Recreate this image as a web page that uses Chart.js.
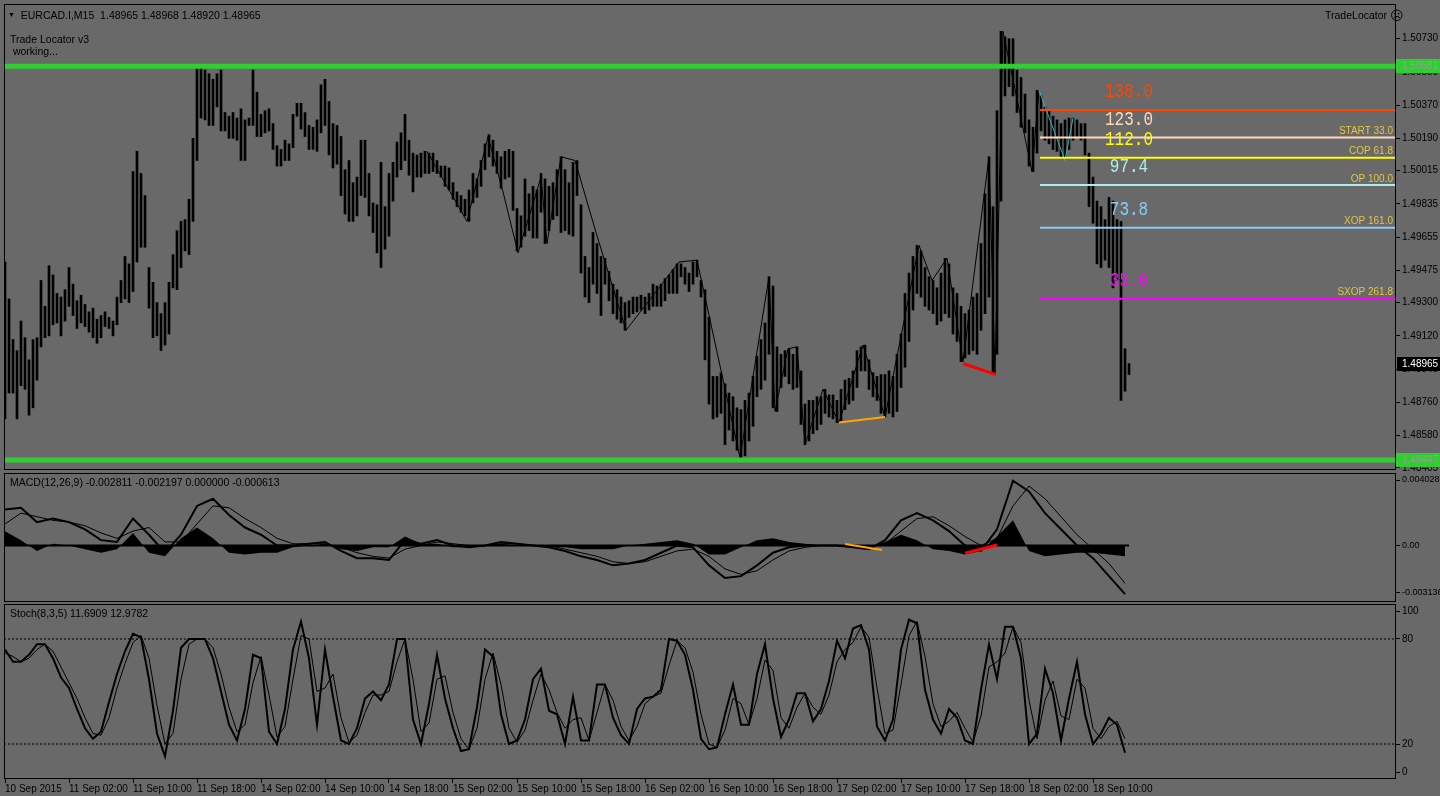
<!DOCTYPE html>
<html><head><meta charset="utf-8">
<script src="https://cdn.jsdelivr.net/npm/chart.js@4.4.0/dist/chart.umd.min.js"></script>
<style>
html,body{margin:0;padding:0;background:#696969;width:1440px;height:796px;overflow:hidden;font-family:"Liberation Sans",Arial,sans-serif;}
canvas{position:absolute;left:0;}
.t{position:absolute;font-size:10.5px;line-height:12px;color:#000;white-space:pre;}
</style></head><body>
<canvas id="main" style="top:0px;width:1440px;height:472px" width="1440" height="472"></canvas>
<canvas id="macd" style="top:472px;width:1440px;height:130px" width="1440" height="130"></canvas>
<canvas id="stoch" style="top:602px;width:1440px;height:194px" width="1440" height="194"></canvas>
<div class="t" style="left:8px;top:9px"><span style="font-size:7px;vertical-align:2px">▼</span>  EURCAD.I,M15  1.48965 1.48968 1.48920 1.48965</div>
<div class="t" style="left:10px;top:33px">Trade Locator v3</div>
<div class="t" style="left:10px;top:45px"> working...</div>
<div class="t" style="left:1325px;top:9px">TradeLocator <span style="font-size:13px;vertical-align:-1px">☹</span></div>
<div class="t" style="left:10px;top:476px">MACD(12,26,9) -0.002811 -0.002197 0.000000 -0.000613</div>
<div class="t" style="left:10px;top:607px">Stoch(8,3,5) 11.6909 12.9782</div>
<script>
// ---------- DATA ----------
const xLabels = ['10 Sep 2015','11 Sep 02:00','11 Sep 10:00','11 Sep 18:00','14 Sep 02:00','14 Sep 10:00','14 Sep 18:00','15 Sep 02:00','15 Sep 10:00','15 Sep 18:00','16 Sep 02:00','16 Sep 10:00','16 Sep 18:00','17 Sep 02:00','17 Sep 10:00','17 Sep 18:00','18 Sep 02:00','18 Sep 10:00'];
const barsPerLabel = 16;   // 30-minute bars per 8 hours
const totalSlots = 348;    // bar slots across the visible window (incl. right shift)

const HI = [1.4952,1.4932,1.4910,1.4904,1.4920,1.4911,1.4899,1.4910,1.4911,1.4942,1.4928,1.4950,1.4945,1.4935,1.4933,1.4937,1.4949,1.4940,1.4931,1.4934,
1.4929,1.4925,1.4927,1.4921,1.4923,1.4925,1.4922,1.4920,1.4933,1.4942,1.4955,1.4951,1.5001,1.5012,1.5000,1.4988,1.4949,1.4941,1.4930,1.4924,
1.4930,1.4941,1.4956,1.4969,1.4974,1.4975,1.4986,1.5019,1.5057,1.5057,1.5056,1.5054,1.5051,1.5054,1.5056,1.5033,1.5031,1.5033,1.5030,1.5035,
1.5029,1.5030,1.5056,1.5044,1.5032,1.5034,1.5035,1.5027,1.5015,1.5013,1.5018,1.5016,1.5032,1.5038,1.5038,1.5033,1.5026,1.5025,1.5029,1.5048,
1.5051,1.5039,1.5027,1.5026,1.5020,1.5002,1.5007,1.4995,1.4998,1.5018,1.5018,1.5000,1.4984,1.4983,1.5006,1.4982,1.5000,1.5006,1.5017,1.5022,
1.5032,1.5018,1.5011,1.5010,1.5011,1.5012,1.5011,1.5011,1.5007,1.5004,1.5004,1.5003,1.4995,1.4990,1.4988,1.4986,1.4991,1.5000,1.4997,1.5007,
1.5016,1.5021,1.5018,1.5012,1.5009,1.5012,1.5013,1.5012,1.4981,1.4977,1.4997,1.4989,1.4993,1.4991,1.5000,1.4997,1.4993,1.4995,1.5002,1.5009,
1.5002,1.4995,1.5006,1.5007,1.4983,1.4955,1.4949,1.4968,1.4962,1.4955,1.4954,1.4947,1.4940,1.4937,1.4933,1.4930,1.4931,1.4933,1.4933,1.4934,
1.4933,1.4935,1.4940,1.4939,1.4940,1.4943,1.4945,1.4948,1.4951,1.4951,1.4949,1.4946,1.4952,1.4953,1.4942,1.4937,1.4922,1.4890,1.4890,1.4892,
1.4886,1.4881,1.4879,1.4873,1.4872,1.4877,1.4881,1.4890,1.4901,1.4910,1.4919,1.4944,1.4939,1.4906,1.4902,1.4904,1.4905,1.4902,1.4906,1.4893,
1.4875,1.4877,1.4877,1.4879,1.4879,1.4883,1.4880,1.4880,1.4877,1.4883,1.4888,1.4889,1.4893,1.4904,1.4906,1.4907,1.4899,1.4892,1.4890,1.4891,
1.4891,1.4893,1.4890,1.4902,1.4913,1.4935,1.4946,1.4955,1.4961,1.4958,1.4949,1.4944,1.4942,1.4938,1.4946,1.4954,1.4951,1.4938,1.4935,1.4928,
1.4924,1.4926,1.4933,1.4935,1.4962,1.4989,1.5009,1.4982,1.5034,1.5077,1.5074,1.5073,1.5073,1.5056,1.5052,1.5043,1.5029,1.5025,1.5045,1.5042,
1.5036,1.5034,1.5031,1.5029,1.5027,1.5029,1.5030,1.5030,1.5029,1.5027,1.5027,1.5011,1.4998,1.4985,1.4982,1.4975,1.4987,1.4985,1.4975,1.4974,
1.4905,1.4897];
const LO = [1.4867,1.4881,1.4881,1.4867,1.4885,1.4883,1.4869,1.4873,1.4888,1.4906,1.4911,1.4912,1.4918,1.4919,1.4912,1.4920,1.4928,1.4923,1.4916,1.4919,
1.4917,1.4914,1.4911,1.4908,1.4911,1.4917,1.4916,1.4912,1.4918,1.4930,1.4932,1.4930,1.4936,1.4952,1.4960,1.4960,1.4927,1.4911,1.4912,1.4904,
1.4907,1.4913,1.4938,1.4937,1.4949,1.4958,1.4956,1.4974,1.5007,1.5030,1.5029,1.5026,1.5026,1.5036,1.5023,1.5023,1.5019,1.5019,1.5018,1.5007,
1.5007,1.5026,1.5026,1.5020,1.5020,1.5022,1.5023,1.5013,1.5004,1.5004,1.5007,1.5007,1.5014,1.5031,1.5024,1.5020,1.5013,1.5013,1.5012,1.5022,
1.5026,1.5010,1.5003,1.5005,1.4988,1.4978,1.4974,1.4974,1.4977,1.4988,1.4987,1.4977,1.4968,1.4957,1.4949,1.4959,1.4966,1.4985,1.4998,1.5002,
1.5007,1.4999,1.4990,1.4998,1.4998,1.5000,1.5000,1.5001,1.5000,1.4998,1.4993,1.4991,1.4986,1.4982,1.4979,1.4977,1.4974,1.4984,1.4987,1.4993,
1.5002,1.5009,1.5004,1.5000,1.4992,1.4997,1.4998,1.4980,1.4958,1.4960,1.4966,1.4969,1.4965,1.4965,1.4979,1.4962,1.4969,1.4975,1.4977,1.4968,
1.4969,1.4967,1.4966,1.4988,1.4946,1.4933,1.4930,1.4940,1.4935,1.4923,1.4940,1.4931,1.4924,1.4921,1.4919,1.4915,1.4922,1.4924,1.4925,1.4926,
1.4924,1.4926,1.4928,1.4928,1.4928,1.4931,1.4935,1.4935,1.4935,1.4944,1.4940,1.4936,1.4940,1.4944,1.4933,1.4899,1.4875,1.4867,1.4868,1.4870,
1.4853,1.4861,1.4855,1.4850,1.4846,1.4847,1.4855,1.4863,1.4879,1.4883,1.4888,1.4902,1.4873,1.4871,1.4884,1.4890,1.4886,1.4883,1.4884,1.4864,
1.4853,1.4855,1.4859,1.4861,1.4864,1.4870,1.4868,1.4867,1.4865,1.4866,1.4872,1.4875,1.4877,1.4884,1.4893,1.4893,1.4883,1.4879,1.4877,1.4870,
1.4868,1.4870,1.4868,1.4871,1.4884,1.4895,1.4909,1.4926,1.4935,1.4933,1.4928,1.4926,1.4924,1.4918,1.4920,1.4924,1.4922,1.4913,1.4909,1.4898,
1.4900,1.4902,1.4904,1.4902,1.4915,1.4924,1.4933,1.4892,1.4902,1.4985,1.5042,1.5047,1.5042,1.5033,1.5025,1.5022,1.5004,1.5001,1.5011,1.5023,
1.5018,1.5016,1.5013,1.5012,1.5009,1.5009,1.5013,1.5018,1.5020,1.5018,1.5010,1.4982,1.4973,1.4951,1.4949,1.4953,1.4949,1.4938,1.4942,1.4877,
1.4882,1.4891];

const priceTicks = [1.50730,1.50550,1.50370,1.50190,1.50015,1.49835,1.49655,1.49475,1.49300,1.49120,1.48940,1.48760,1.48580,1.48405];
const greenLevels = [1.50581,1.48447];
const lastPrice = 1.48965;

// ZigZag swing points (bar index, price)
const zzIdx   = [105.5,115.5,120.75,124.5,128.25,134,135.5,139,142.5,147.75,155.25,168.5,173,183.75,191,192.5,195.75,198,200,204.5,208.5,214.5,220,228.5,231.75,235.5,239.5,246,247.5,249.5,256.75,258.5];
const zzPrice = [1.5012,1.4974,1.5020,1.4990,1.4957,1.4998,1.4962,1.5009,1.5007,1.4968,1.4915,1.4952,1.4953,1.4846,1.4944,1.4871,1.4905,1.4906,1.4853,1.4883,1.4865,1.4907,1.4868,1.4961,1.4942,1.4954,1.4898,1.5009,1.4892,1.5077,1.5001,1.5045];
const patIdx = [258.5,265,267];
const patPrice = [1.5045,1.5007,1.5030];
const divOrangeIdx = [208.5,220], divOrangePrice = [1.4865,1.4868];
const divRedIdx = [239.5,247.75], divRedPrice = [1.4897,1.4891];

// Trade Locator levels
const fibStart = 258.75;
const fibPrice = [1.50344,1.50194,1.50085,1.49937,1.49706,1.49321];
const fibValue = ['138.0','123.0','112.0','97.4','73.8','35.6'];
const fibTag   = ['','START 33.0','COP 61.8','OP 100.0','XOP 161.0','SXOP 261.8'];
const fibColor = ['#ff4500','#ffdab9','#ffff00','#afeeee','#87cefa','#ff00ff'];

// MACD (one value every 4 bars)
const macdMain = [0.0020,0.0021,0.0013,0.0015,0.0013,0.0009,0.0003,0.0002,0.0015,0.0006,-0.0004,0.0006,0.0022,0.0026,0.0017,0.0010,0.0006,0.0000,0.0000,0.0001,
0.0002,-0.0003,-0.0007,-0.0007,-0.0008,0.0003,0.0001,0.0003,0.0000,-0.0001,0.0000,0.0002,0.0001,0.0000,-0.0001,-0.0003,-0.0006,-0.0008,-0.0011,-0.0010,
-0.0008,-0.0004,0.0000,-0.0001,-0.0011,-0.0018,-0.0017,-0.0011,-0.0004,-0.0001,0.0000,0.0000,0.0000,-0.0001,-0.0002,0.0003,0.0014,0.0018,0.0014,0.0008,
0.0000,-0.0003,0.0009,0.0036,0.0030,0.0018,0.0009,0.0000,-0.0007,-0.0017,-0.0027];
const macdSignal = [0.0012,0.0018,0.0016,0.0014,0.0013,0.0011,0.0007,0.0004,0.0008,0.0010,0.0002,0.0002,0.0012,0.0022,0.0021,0.0015,0.0010,0.0004,0.0001,0.0001,
0.0001,-0.0001,-0.0004,-0.0006,-0.0007,-0.0002,0.0000,0.0002,0.0001,0.0000,0.0000,0.0001,0.0001,0.0000,0.0000,-0.0002,-0.0004,-0.0006,-0.0009,-0.0010,
-0.0009,-0.0006,-0.0003,-0.0002,-0.0006,-0.0013,-0.0016,-0.0014,-0.0008,-0.0003,-0.0001,0.0000,0.0000,-0.0001,-0.0001,0.0001,0.0008,0.0015,0.0016,0.0011,
0.0005,0.0000,0.0004,0.0022,0.0033,0.0026,0.0016,0.0006,-0.0002,-0.0010,-0.0021];
const macdHist = [0.0008,0.0003,-0.0003,0.0001,0.0000,-0.0002,-0.0004,-0.0002,0.0007,-0.0004,-0.0006,0.0004,0.0010,0.0004,-0.0004,-0.0005,-0.0004,-0.0004,-0.0001,0.0000,
0.0001,-0.0002,-0.0003,-0.0001,-0.0001,0.0005,0.0001,0.0001,-0.0001,-0.0001,0.0000,0.0001,0.0000,0.0000,-0.0001,-0.0001,-0.0002,-0.0002,-0.0002,0.0000,
0.0001,0.0002,0.0003,0.0001,-0.0005,-0.0005,-0.0001,0.0003,0.0004,0.0002,0.0001,0.0000,0.0000,0.0000,-0.0001,0.0002,0.0006,0.0003,-0.0002,-0.0003,
-0.0005,-0.0003,0.0005,0.0014,-0.0003,-0.0006,-0.0005,-0.0004,-0.0004,-0.0005,-0.0006];
const macdDivOrangeIdx = [210,219.25], macdDivOrangeVal = [0.00008,-0.00025];
const macdDivRedIdx = [240,248], macdDivRedVal = [-0.00042,0.00003];
const macdTickVals = [0.003639,0,-0.002636];
const macdTickLabels = ['0.004028','0.00','-0.003136'];

// Stochastic (one value every 2 bars)
const stochMain = [74,67,67,71,77,77,69,58,52,40,29,23,27,44,60,73,83,81,57,26,13,39,75,80,80,80,69,50,31,22,40,71,69,27,20,40,74,90,69,31,
74,47,22,20,29,46,50,45,54,80,80,34,20,43,71,46,29,16,17,41,74,70,37,20,22,34,57,63,39,37,20,47,22,22,54,54,35,25,20,40,
46,47,51,80,79,71,51,23,17,18,37,54,31,31,60,77,46,24,34,49,49,33,40,56,79,69,86,88,74,30,22,34,74,91,89,51,34,26,40,35,
22,20,51,77,57,87,87,69,20,26,63,49,22,46,67,37,20,26,35,31,15];
const stochSignal = [72,70,67,69,74,77,73,64,55,46,35,26,25,35,52,66,78,82,69,42,20,26,57,77,80,80,75,60,41,27,31,55,70,48,24,30,57,82,80,50,
52,60,35,21,25,38,48,48,50,67,80,57,27,32,57,59,38,23,17,29,57,72,54,29,21,28,45,60,51,38,29,34,35,22,38,54,45,30,22,30,
43,47,49,65,79,75,61,37,20,18,28,46,43,31,46,68,62,35,29,41,49,41,37,48,67,74,78,87,81,52,26,28,54,82,90,70,43,30,33,38,
29,21,36,64,67,72,87,78,45,23,45,56,36,34,57,52,29,23,30,33,23];
const stochTickVals = [96,80,20,4];
const stochTickLabels = ['100','80','20','0'];
const stochLevels = [80,20];

// ---------- CHARTS ----------
const X_MIN = -0.25, X_MAX = totalSlots - 0.25;
const pts = (xs, ys) => xs.map((x, k) => ({x: x, y: ys[k]}));
const FONT = {family: '"Liberation Sans", Arial, sans-serif', size: 10};

const framePlugin = {
  id: 'frame',
  afterDraw(chart) {
    const a = chart.chartArea, c = chart.ctx;
    c.save(); c.strokeStyle = '#000'; c.lineWidth = 1;
    c.strokeRect(Math.round(a.left) + 0.5, Math.round(a.top) + 0.5, Math.round(a.right - a.left) - 1, Math.round(a.bottom - a.top) - 1);
    c.restore();
  }
};

function xAxis(show) {
  return {
    type: 'linear', min: X_MIN, max: X_MAX, offset: false, display: show,
    afterFit: s => { s.height = show ? 17 : 0; s.paddingLeft = 0; s.paddingRight = 0; },
    afterBuildTicks: s => { s.ticks = xLabels.map((l, j) => ({value: j * barsPerLabel})); },
    ticks: {autoSkip: false, maxRotation: 0, align: 'start', color: '#000', font: FONT, padding: 0,
            callback: (v, idx) => xLabels[idx]},
    grid: {offset: false, drawOnChartArea: false, color: '#000', tickLength: 4, tickColor: '#000'},
    border: {display: false}
  };
}
function yAxis(min, max, vals, labelFn, fsize) {
  return {
    type: 'linear', position: 'right', min: min, max: max,
    afterFit: s => { s.width = 44; s.paddingTop = 0; s.paddingBottom = 0; },
    afterBuildTicks: s => { s.ticks = vals.map(v => ({value: v})); },
    ticks: {autoSkip: false, color: '#000', font: {family: FONT.family, size: fsize || 10}, padding: 2, callback: labelFn},
    grid: {drawOnChartArea: false, color: '#000', tickLength: 4, tickColor: '#000'},
    border: {display: false}
  };
}
const baseOpts = {
  responsive: false, animation: false, events: [],
  plugins: {legend: {display: false}, tooltip: {enabled: false}}
};
const lineDs = (data, color, width, order, extra) => Object.assign({
  type: 'line', data: data, borderColor: color, borderWidth: width, pointRadius: 0,
  fill: false, tension: 0, order: order
}, extra || {});

// main price panel
const mainOverlay = {
  id: 'mainOverlay',
  afterDatasetsDraw(chart) {
    const c = chart.ctx, xs = chart.scales.x, ys = chart.scales.y, a = chart.chartArea;
    c.save();
    fibPrice.forEach((p, k) => {
      const y = ys.getPixelForValue(p);
      c.fillStyle = fibColor[k];
      c.font = '16px "Liberation Mono", monospace';
      c.textAlign = 'center'; c.textBaseline = 'middle';
      c.save(); c.translate(xs.getPixelForValue(281), y - 18); c.scale(1, 1.25);
      c.fillText(fibValue[k], 0, 0); c.restore();
      if (fibTag[k]) {
        c.fillStyle = '#e2c744';
        c.font = '10px "Liberation Sans", Arial, sans-serif';
        c.textAlign = 'right'; c.textBaseline = 'bottom';
        c.fillText(fibTag[k], a.right - 3, y - 1);
      }
    });
    c.restore();
  },
  afterDraw(chart) {
    const c = chart.ctx, ys = chart.scales.y, a = chart.chartArea;
    c.save();
    c.font = '10px "Liberation Sans", Arial, sans-serif';
    c.textBaseline = 'middle'; c.textAlign = 'left';
    greenLevels.forEach(p => {
      const y = Math.round(ys.getPixelForValue(p));
      c.fillStyle = '#32cd32'; c.fillRect(a.right, y - 7, 1440 - a.right, 14);
      c.fillStyle = '#86a886'; c.fillText(p.toFixed(5), a.right + 6, y + 0.5);
    });
    const y = Math.round(ys.getPixelForValue(lastPrice));
    c.fillStyle = '#000'; c.fillRect(a.right + 1, y - 7, 1440 - a.right, 14);
    c.fillStyle = '#fff'; c.fillText(lastPrice.toFixed(5), a.right + 6, y + 0.5);
    c.restore();
  }
};

new Chart(document.getElementById('main'), {
  type: 'bar',
  data: {datasets: [
    {type: 'bar', data: HI.map((h, i) => ({x: i, y: [LO[i], h]})), backgroundColor: '#000', barThickness: 2, grouped: false, order: 10},
    lineDs(pts(zzIdx, zzPrice), '#000', 1, 8),
    lineDs(pts(patIdx, patPrice), '#22b8c6', 1, 7),
    lineDs(pts(divOrangeIdx, divOrangePrice), '#ffa500', 2, 6),
    lineDs(pts(divRedIdx, divRedPrice), '#ff0000', 3, 6),
    ...fibPrice.map((p, k) => lineDs([{x: fibStart, y: p}, {x: X_MAX, y: p}], fibColor[k], 2, 4)),
    ...greenLevels.map(p => lineDs([{x: X_MIN, y: p}, {x: X_MAX, y: p}], '#32cd32', 5, 1))
  ]},
  options: Object.assign({}, baseOpts, {
    layout: {padding: {left: 4, top: 4, right: 0, bottom: 2}},
    scales: {
      x: xAxis(false),
      y: yAxis(1.48393, 1.50918, priceTicks, v => v.toFixed(5))
    }
  }),
  plugins: [framePlugin, mainOverlay]
});

// MACD panel
new Chart(document.getElementById('macd'), {
  type: 'line',
  data: {datasets: [
    lineDs(pts(macdHist.map((v, k) => k * 4), macdHist), '#000', 0, 5, {fill: 'origin', backgroundColor: '#000'}),
    lineDs([{x: 0, y: 0}, {x: HI.length - 1, y: 0}], '#000', 2, 4),
    lineDs(pts(macdMain.map((v, k) => k * 4), macdMain), '#000', 2, 3),
    lineDs(pts(macdSignal.map((v, k) => k * 4), macdSignal), '#000', 1, 3),
    lineDs(pts(macdDivOrangeIdx, macdDivOrangeVal), '#ffa500', 2, 1),
    lineDs(pts(macdDivRedIdx, macdDivRedVal), '#ff0000', 3, 1)
  ]},
  options: Object.assign({}, baseOpts, {
    layout: {padding: {left: 4, top: 1, right: 0, bottom: 0}},
    scales: {
      x: xAxis(false),
      y: yAxis(-0.003136, 0.004028, macdTickVals, (v, idx) => macdTickLabels[idx], 9)
    }
  }),
  plugins: [framePlugin]
});

// Stochastic panel
new Chart(document.getElementById('stoch'), {
  type: 'line',
  data: {datasets: [
    ...stochLevels.map(l => lineDs([{x: X_MIN, y: l}, {x: X_MAX, y: l}], '#000', 1, 5, {borderDash: [2, 2]})),
    lineDs(pts(stochMain.map((v, k) => k * 2), stochMain), '#000', 2, 3),
    lineDs(pts(stochSignal.map((v, k) => k * 2), stochSignal), '#000', 1, 3)
  ]},
  options: Object.assign({}, baseOpts, {
    layout: {padding: {left: 4, top: 2, right: 0, bottom: 0}},
    scales: {
      x: xAxis(true),
      y: yAxis(0, 100, stochTickVals, (v, idx) => stochTickLabels[idx])
    }
  }),
  plugins: [framePlugin]
});
</script>
</body></html>
